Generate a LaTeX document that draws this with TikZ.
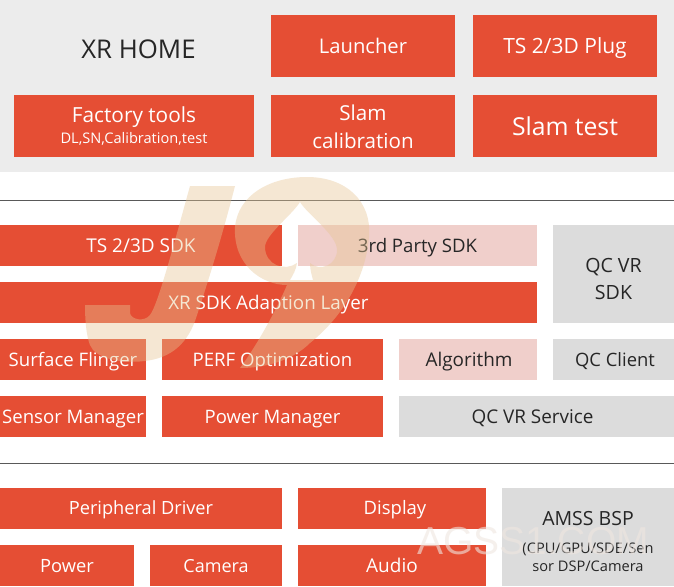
\documentclass[tikz,border=0pt]{standalone}
\usepackage{fontspec}
\setmainfont{Open Sans}
\newfontfamily\wmfont{Liberation Sans}
\definecolor{redbox}{HTML}{E54E34}
\definecolor{pinkbox}{HTML}{F0CFCB}
\definecolor{greybox}{HTML}{DCDCDC}
\definecolor{panel}{HTML}{ECECEC}
\definecolor{ink}{HTML}{262626}
\definecolor{wm}{HTML}{E6C593}
\definecolor{wmtext}{HTML}{EFE6E0}
\tikzset{
 x=1pt,y=-1pt,
 box/.style={rectangle,inner sep=0pt,outer sep=0pt,align=center},
 one/.style={text height=18.4pt,text depth=5.4pt},
 high/.style={text height=17pt,text depth=5.4pt},
 low/.style={text height=20pt,text depth=5.4pt},
 red box/.style={box,fill=redbox,text=white},
 pink box/.style={box,fill=pinkbox,text=ink},
 grey box/.style={box,fill=greybox,text=ink},
 rule/.style={draw=black!65,line width=1pt},
}
\newcommand{\fs}[1]{\fontsize{#1}{1.35em}\selectfont}
\newcommand{\bx}[6]{\node[#1,minimum width=#4-#2,minimum height=#5-#3,anchor=north west] (#6) at (#2,#3)}
\begin{document}
\begin{tikzpicture}
\useasboundingbox (0,0) rectangle (674,586);
\fill[white] (0,0) rectangle (674,586);
\node[fill=panel,minimum width=674,minimum height=172,inner sep=0,anchor=north west] (panelbg) at (0,0) {};
\node[text=ink,font=\fontsize{25.8}{30}\selectfont] (home) at (138.5,49.5) {XR HOME};
\bx{red box,low}{271}{15}{455}{77}{launcher} {\fs{20.2}Launcher};
\bx{red box,low}{473}{15}{657}{77}{plug} {\fs{21}TS 2/3D Plug};
\bx{red box,font=\fontsize{14.6}{16}\selectfont}{14}{95}{254}{157}{factory} {\fontsize{20.8}{27}\selectfont Factory tools\\[3pt]DL,SN,Calibration,test};
\bx{red box,font=\fontsize{20.6}{28}\selectfont}{271}{95}{455}{157}{slamcal} {\rule{0pt}{18pt}Slam\\calibration};
\bx{red box}{473}{95}{657}{157}{slamtest} {\fontsize{24.7}{28}\selectfont Slam test};
\coordinate (r1a) at (0,200.5); \coordinate (r1b) at (674,200.5);
\draw[rule] (r1a) -- (r1b);
\bx{red box,one}{0}{225}{282}{266}{tssdk} {\fs{19}TS 2/3D SDK};
\bx{pink box,one}{298}{225}{537}{266}{third} {\fs{18.6}3rd Party SDK};
\bx{red box,one}{0}{282}{537}{323}{adapt} {\fs{18.8}XR SDK Adaption Layer};
\bx{grey box,font=\fontsize{19.6}{27}\selectfont}{553}{225}{674}{323}{qcvr} {\rule{0pt}{24pt}QC VR\\SDK};
\bx{red box,one}{0}{339}{146}{380}{surface} {\fs{18.6}Surface Flinger};
\bx{red box,one}{162}{339}{383}{380}{perf} {\fs{18.6}PERF Optimization};
\bx{pink box,one}{399}{339}{537}{380}{algo} {\hspace*{2pt}\fs{18.9}Algorithm};
\bx{grey box,one}{553}{339}{674}{380}{client} {\hspace*{3pt}\fs{18.4}QC Client};
\bx{red box,one}{0}{396}{146}{437}{sensor} {\fs{18.6}Sensor Manager};
\bx{red box,one}{162}{396}{383}{437}{power} {\fs{18.5}Power Manager};
\bx{grey box,one}{399}{396}{674}{437}{service} {\hspace*{-8pt}\fs{18.9}QC VR Service};
\coordinate (r2a) at (0,463.5); \coordinate (r2b) at (674,463.5);
\draw[rule] (r2a) -- (r2b);
\bx{red box,high}{0}{488}{282}{529}{periph} {\fs{18.2}Peripheral Driver};
\bx{red box,high}{298}{488}{486}{529}{display} {\hspace*{6pt}\fs{18.5}Display};
\bx{red box,low}{0}{545}{134}{586}{powerb} {\fs{18.3}Power};
\bx{red box,low}{150}{545}{282}{586}{camera} {\fs{18}Camera};
\bx{red box,low}{298}{545}{486}{586}{audio} {\fs{19}Audio};
\bx{grey box,font=\fontsize{14.6}{17.4}\selectfont}{502}{488}{674}{586}{amss} {\fontsize{19.5}{27}\selectfont\rule{0pt}{23pt}AMSS BSP\\[11pt](CPU/GPU/SDE/Sen\\sor DSP/Camera};
% watermark J
\fill[wm,opacity=.4] (190,186) -- (235,186) .. controls (225,225) and (212,270) .. (197,315)
  .. controls (188,345) and (170,358) .. (145,361) .. controls (120,364) and (95,358) .. (90,345)
  .. controls (86,335) and (85,318) .. (85,305) -- (130,305) -- (130,313)
  .. controls (131,320) and (145,322) .. (150,315) .. controls (158,305) and (175,240) .. (190,186) -- cycle;
% watermark 9 with spade counter
\fill[wm,opacity=.4,even odd rule] (235,227) .. controls (238,195) and (270,177) .. (307,177)
  .. controls (345,177) and (372,200) .. (369,237) .. controls (366,275) and (345,315) .. (310,343)
  .. controls (295,358) and (270,368) .. (240,368) .. controls (250,355) and (272,320) .. (287,285)
  .. controls (262,285) and (233,265) .. (235,227) -- cycle
  (300,202) .. controls (308,215) and (337,235) .. (337,250) .. controls (337,265) and (320,272) .. (310,263)
  .. controls (310,270) and (312,276) .. (313,280) -- (290,280)
  .. controls (293,275) and (296,270) .. (297,263) .. controls (285,272) and (265,265) .. (265,247)
  .. controls (265,235) and (292,215) .. (300,202) -- cycle;
\node[font=\wmfont\fontsize{39}{43}\selectfont,text=wmtext,opacity=.6,inner sep=0] (wmark) at (533,541) {AGSS1.COM};
\end{tikzpicture}
\end{document}
